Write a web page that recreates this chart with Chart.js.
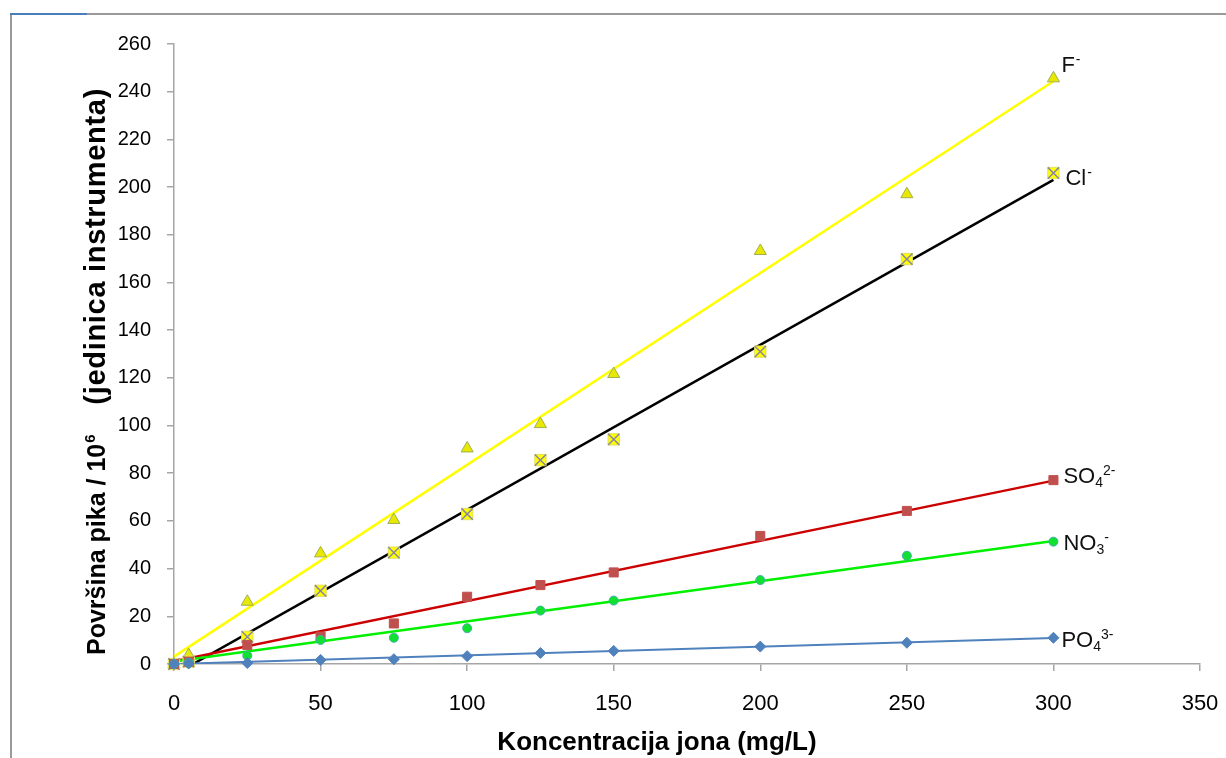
<!DOCTYPE html>
<html><head><meta charset="utf-8">
<script src="https://cdn.jsdelivr.net/npm/chart.js@4.4.0/dist/chart.umd.min.js"></script>
<style>html,body{margin:0;padding:0;background:#fff;}canvas{display:block;}</style>
</head><body>
<canvas id="c" width="1226" height="758"></canvas>
<script>
// ---- data ----
const concentrations = [0, 5, 25, 50, 75, 100, 125, 150, 200, 250, 300];
const fluoride  = [0, 3.8, 26.1, 46.4, 60.4, 90.4, 100.6, 121.6, 173.2, 197.0, 245.6];
const chloride  = [0, 1.0, 11.4, 30.7, 46.7, 62.9, 85.5, 94.2, 131.0, 169.8, 205.9];
const sulfate   = [0, 1.0, 8.0, 11.5, 17.0, 28.2, 33.1, 38.4, 53.7, 64.2, 77.1];
const nitrate   = [0, 0.5, 3.5, 10.1, 11.0, 15.0, 22.4, 26.6, 35.2, 45.4, 51.3];
const phosphate = [0, 0.2, 0.4, 1.7, 2.0, 3.3, 4.6, 5.5, 7.3, 8.9, 11.0];

// trend lines (end points)
const trendX        = [0, 300];
const fluorideFit   = [3.1, 244.4];
const chlorideFit   = [-4.5, 203.0];
const sulfateFit    = [1.1, 76.9];
const nitrateFit    = [1.0, 51.6];
const phosphateFit  = [0.0, 10.9];

const xTicks = [0, 50, 100, 150, 200, 250, 300, 350];
const yTicks = [0, 20, 40, 60, 80, 100, 120, 140, 160, 180, 200, 220, 240, 260];

const ionLabels = [
  {base: 'F',  sub: '',  sup: '-'},
  {base: 'Cl', sub: '',  sup: '-'},
  {base: 'SO', sub: '4', sup: '2-'},
  {base: 'NO', sub: '3', sup: '-'},
  {base: 'PO', sub: '4', sup: '3-'}
];
const xTitle = 'Koncentracija jona (mg/L)';
const yTitleMain = 'Površina pika / 10';
const yTitleSup = '6';
const yTitleRest = '(jedinica instrumenta)';

// ---- styling ----
const FONT = "'Liberation Sans', Arial, sans-serif";
const AXIS = '#a6a6a6';
const pts = (xs, ys) => xs.map((x, i) => ({x: x, y: ys[i]}));
const labelSeries = [fluoride, chloride, sulfate, nitrate, phosphate];
const labelOffsets = [[8, -6], [12, 12], [10, 3], [10, 8], [8, 9]];

const markerBase = {showLine: false, clip: false, borderWidth: 1, pointHoverRadius: 0};
const fitBase = {showLine: true, pointRadius: 0, pointHoverRadius: 0, borderWidth: 2.5, fill: false};

const datasets = [
  Object.assign({}, markerBase, {label: 'PO4', data: pts(concentrations, phosphate), pointStyle: 'rectRot', pointRadius: 5.5, backgroundColor: '#4f81bd', borderColor: '#4f81bd'}),
  Object.assign({}, markerBase, {label: 'NO3', data: pts(concentrations, nitrate), pointStyle: 'circle', pointRadius: 4.5, backgroundColor: '#10e030', borderColor: '#40b0a8'}),
  Object.assign({}, markerBase, {label: 'SO4', data: pts(concentrations, sulfate), pointStyle: 'rect', pointRadius: 6.4, backgroundColor: '#c0504d', borderColor: '#c0504d'}),
  Object.assign({}, markerBase, {label: 'Cl x', data: pts(concentrations, chloride), pointStyle: 'crossRot', pointRadius: 8, borderWidth: 1.5, borderColor: '#8a86a6'}),
  Object.assign({}, markerBase, {label: 'Cl', data: pts(concentrations, chloride), pointStyle: 'rect', pointRadius: 8, backgroundColor: '#ffff00', borderColor: '#e0e060'}),
  Object.assign({}, markerBase, {label: 'F', data: pts(concentrations, fluoride), pointStyle: 'triangle', pointRadius: 7, backgroundColor: '#e8e800', borderColor: '#a0b050'}),
  Object.assign({}, fitBase, {label: 'PO4 fit', data: pts(trendX, phosphateFit), borderColor: '#4f81bd', borderWidth: 2}),
  Object.assign({}, fitBase, {label: 'NO3 fit', data: pts(trendX, nitrateFit), borderColor: '#00f000'}),
  Object.assign({}, fitBase, {label: 'SO4 fit', data: pts(trendX, sulfateFit), borderColor: '#cc0000'}),
  Object.assign({}, fitBase, {label: 'Cl fit', data: pts(trendX, chlorideFit), borderColor: '#000000'}),
  Object.assign({}, fitBase, {label: 'F fit', data: pts(trendX, fluorideFit), borderColor: '#ffff00'})
];

const decorPlugin = {
  id: 'decor',
  beforeDraw(chart) {
    const ctx = chart.ctx;
    ctx.save();
    ctx.fillStyle = '#fff';
    ctx.fillRect(0, 0, chart.width, chart.height);
    ctx.fillStyle = '#9a9a9a';
    ctx.fillRect(10, 13, 1216, 2);
    ctx.fillRect(10, 13, 2, 745);
    ctx.fillStyle = '#4a7ebb';
    ctx.fillRect(10, 13, 77, 2);
    ctx.restore();
  },
  afterDraw(chart) {
    const ctx = chart.ctx;
    const xs = chart.scales.x, ys = chart.scales.y;
    ctx.save();
    ctx.fillStyle = '#000';
    ctx.textBaseline = 'alphabetic';
    // x title
    ctx.font = 'bold 26px ' + FONT;
    ctx.textAlign = 'center';
    ctx.fillText(xTitle, 657, 750);
    // y title (rotated)
    ctx.translate(105, 655);
    ctx.rotate(-Math.PI / 2);
    ctx.textAlign = 'left';
    ctx.font = 'bold 25px ' + FONT;
    ctx.fillText(yTitleMain, 0, 0);
    let w = ctx.measureText(yTitleMain).width;
    ctx.font = 'bold 15px ' + FONT;
    ctx.fillText(yTitleSup, w + 1, -10);
    ctx.font = 'bold 29px ' + FONT;
    ctx.textAlign = 'right';
    ctx.letterSpacing = '0.7px';
    ctx.fillText(yTitleRest, 655 - 88, 0);
    ctx.restore();

    // series end labels
    ctx.save();
    ctx.fillStyle = '#111';
    ctx.textAlign = 'left';
    ctx.textBaseline = 'alphabetic';
    ionLabels.forEach((lab, i) => {
      const arr = labelSeries[i];
      const last = arr.length - 1;
      const px = xs.getPixelForValue(concentrations[last]) + labelOffsets[i][0];
      const py = ys.getPixelForValue(arr[last]) + labelOffsets[i][1];
      ctx.font = '22px ' + FONT;
      ctx.fillText(lab.base, px, py);
      let x = px + ctx.measureText(lab.base).width;
      ctx.font = '14px ' + FONT;
      let subW = 0;
      if (lab.sub) { ctx.fillText(lab.sub, x, py + 4); subW = ctx.measureText(lab.sub).width; }
      if (lab.sup) { ctx.fillText(lab.sup, x + (lab.sub ? subW : 1), py - 8); }
    });
    ctx.restore();
  }
};

new Chart(document.getElementById('c'), {
  type: 'scatter',
  data: {datasets: datasets},
  options: {
    responsive: false,
    animation: false,
    events: [],
    layout: {padding: {top: 44, right: 26, left: 0, bottom: 0}},
    plugins: {legend: {display: false}, tooltip: {enabled: false}},
    scales: {
      x: {
        type: 'linear', min: 0, max: 350,
        afterBuildTicks: (s) => { s.ticks = xTicks.map(v => ({value: v})); },
        afterFit: (s) => { s.height = 94; s.paddingLeft = 0; s.paddingRight = 0; },
        ticks: {color: '#000', font: {family: FONT, size: 22}, padding: 20, maxRotation: 0, autoSkip: false},
        grid: {display: true, drawOnChartArea: false, drawTicks: true, tickLength: 7, color: AXIS, lineWidth: 1.5},
        border: {display: true, color: AXIS, width: 1.5}
      },
      y: {
        type: 'linear', min: 0, max: 260,
        afterBuildTicks: (s) => { s.ticks = yTicks.map(v => ({value: v})); },
        afterFit: (s) => { s.width = 174; s.paddingTop = 0; s.paddingBottom = 0; },
        ticks: {color: '#000', font: {family: FONT, size: 20}, padding: 16, autoSkip: false},
        grid: {display: true, drawOnChartArea: false, drawTicks: true, tickLength: 7, color: AXIS, lineWidth: 1.5},
        border: {display: true, color: AXIS, width: 1.5}
      }
    }
  },
  plugins: [decorPlugin]
});
</script>
</body></html>
